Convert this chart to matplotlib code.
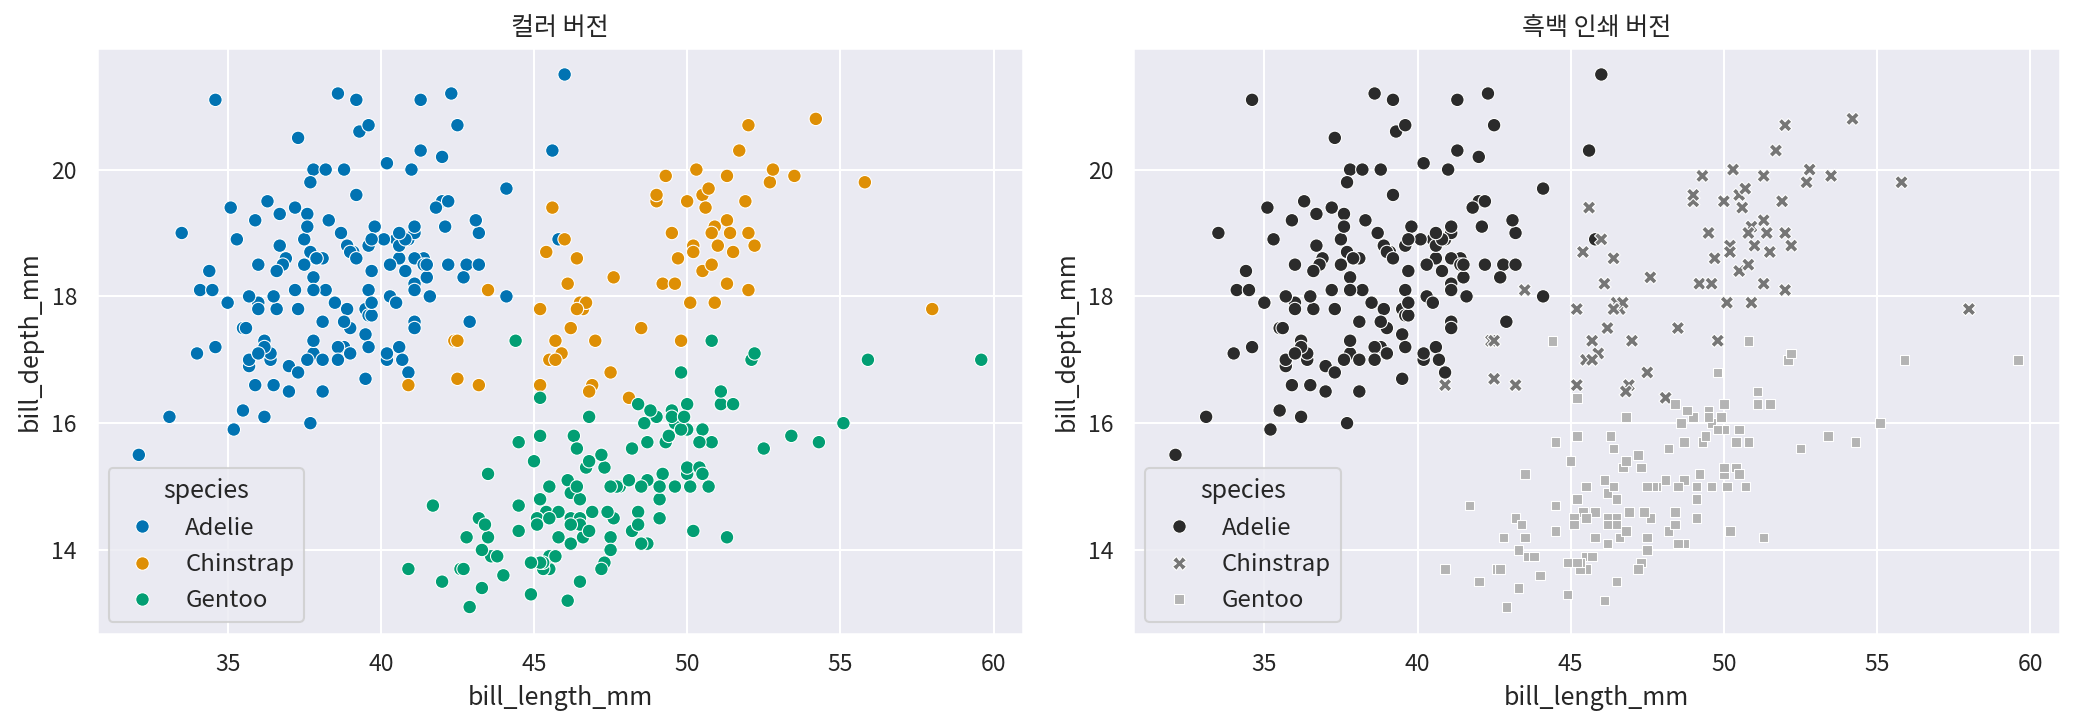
import matplotlib
matplotlib.use("Agg")
import matplotlib.pyplot as plt
import seaborn as sns
import pandas as pd

adelie_len = [39.1,39.5,40.3,36.7,39.3,38.9,39.2,34.1,42.0,37.8,37.8,41.1,38.6,34.6,36.6,38.7,42.5,34.4,46.0,37.8,37.7,35.9,38.2,38.8,35.3,40.6,40.5,37.9,40.5,39.5,37.2,39.5,40.9,36.4,39.2,38.8,42.2,37.6,39.8,36.5,40.8,36.0,44.1,37.0,39.6,41.1,37.5,36.0,42.3,39.6,40.1,35.0,42.0,34.5,41.4,39.0,40.6,36.5,37.6,35.7,41.3,37.6,41.1,36.4,41.6,35.5,41.1,35.9,41.8,33.5,39.7,39.6,45.8,35.5,42.8,40.9,37.2,36.2,42.1,34.6,42.9,36.7,35.1,37.3,41.3,36.3,36.9,38.3,38.9,35.7,41.1,34.0,39.6,36.2,40.8,38.1,40.3,33.1,43.2,35.0,41.0,37.7,37.8,37.9,39.7,38.6,38.2,38.1,43.2,38.1,45.6,39.7,42.2,39.6,42.7,38.6,37.3,35.7,41.1,36.2,37.7,40.2,41.4,35.2,40.6,38.8,41.5,39.0,44.1,38.5,43.1,36.8,37.5,38.1,41.1,35.6,40.2,37.0,39.7,40.2,40.6,32.1,40.7,37.3,39.0,39.2,36.6,36.0,37.8,36.0,41.5]
adelie_dep = [18.7,17.4,18.0,19.3,20.6,17.8,19.6,18.1,20.2,17.1,17.3,17.6,21.2,21.1,17.8,19.0,20.7,18.4,21.5,18.3,18.7,19.2,18.1,17.2,18.9,18.6,17.9,18.6,18.9,16.7,18.1,17.8,18.9,17.0,21.1,20.0,18.5,19.3,19.1,18.0,18.4,18.5,19.7,16.9,18.8,19.0,18.9,17.9,21.2,17.7,18.9,17.9,19.5,18.1,18.6,17.5,18.8,16.6,19.1,16.9,21.1,17.0,18.2,17.1,18.0,16.2,19.1,16.6,19.4,19.0,18.4,17.2,18.9,17.5,18.5,16.8,19.4,16.1,19.1,17.2,17.6,18.8,19.4,17.8,20.3,19.5,18.6,19.2,18.8,18.0,18.1,17.1,18.1,17.3,18.9,18.6,18.5,16.1,18.5,17.9,20.0,16.0,20.0,18.6,18.9,17.2,20.0,17.0,19.0,16.5,20.3,17.7,19.5,20.7,18.3,17.0,20.5,17.0,18.6,17.2,19.8,17.0,18.5,15.9,19.0,17.6,18.3,17.1,18.0,17.9,19.2,18.5,18.5,17.6,17.5,17.5,20.1,16.5,17.9,17.1,17.2,15.5,17.0,16.8,18.7,18.6,18.4,17.8,18.1,17.1,18.5]

chinstrap_len = [46.5,50.0,51.3,45.4,52.7,45.2,46.1,51.3,46.0,51.3,46.6,51.7,47.0,52.0,45.9,50.5,50.3,58.0,46.4,49.2,42.4,48.5,43.2,50.6,46.7,52.0,50.5,49.5,46.4,52.8,40.9,54.2,42.5,51.0,49.7,47.5,47.6,52.0,46.9,53.5,49.0,46.2,50.9,45.5,50.9,50.8,50.1,49.0,51.5,49.8,48.1,51.4,45.7,50.7,42.5,52.2,45.2,49.3,50.2,45.6,51.9,46.8,45.7,55.8,43.5,49.6,50.8,50.2]
chinstrap_dep = [17.9,19.5,19.2,18.7,19.8,17.8,18.2,18.2,18.9,19.9,17.8,20.3,17.3,18.1,17.1,19.6,20.0,17.8,18.6,18.2,17.3,17.5,16.6,19.4,17.9,19.0,18.4,19.0,17.8,20.0,16.6,20.8,16.7,18.8,18.6,16.8,18.3,20.7,16.6,19.9,19.5,17.5,19.1,17.0,17.9,18.5,17.9,19.6,18.7,17.3,16.4,19.0,17.3,19.7,17.3,18.8,16.6,19.9,18.8,19.4,19.5,16.5,17.0,19.8,18.1,18.2,19.0,18.7]

gentoo_len = [46.1,50.0,48.7,50.0,47.6,46.5,45.4,46.7,43.3,46.8,40.9,49.0,45.5,48.4,45.8,49.3,42.0,49.2,46.2,48.7,50.2,45.1,46.5,46.3,42.9,46.1,44.5,47.8,48.2,50.0,47.3,42.8,45.1,59.6,49.1,48.4,42.6,44.4,44.0,48.7,42.7,49.6,45.3,49.6,50.5,43.6,45.5,50.5,44.9,45.2,46.6,48.5,45.1,50.1,46.5,45.0,43.8,45.5,43.2,50.4,45.3,46.2,45.7,54.3,45.8,49.8,46.2,49.5,43.5,50.7,47.7,46.4,48.2,46.5,46.4,48.6,47.5,51.1,45.2,45.2,49.1,52.5,47.4,50.0,44.9,50.8,43.4,51.3,47.5,52.1,47.5,52.2,45.5,49.5,44.5,50.8,49.4,46.9,48.4,51.1,48.5,55.9,47.2,49.1,47.3,46.8,41.7,53.4,43.3,48.1,50.5,49.8,43.5,51.5,46.2,55.1,44.5,48.8,47.2,46.8,50.4,45.2,49.9]
gentoo_dep = [13.2,16.3,14.1,15.2,14.5,13.5,14.6,15.3,13.4,15.4,13.7,16.1,13.7,14.6,14.6,15.7,13.5,15.2,14.5,15.1,14.3,14.5,14.5,15.8,13.1,15.1,14.3,15.0,14.3,15.3,15.3,14.2,14.5,17.0,14.8,16.3,13.7,17.3,13.6,15.7,13.7,16.0,13.7,15.0,15.9,13.9,13.9,15.9,13.3,15.8,14.2,14.1,14.4,15.0,14.4,15.4,13.9,15.0,14.5,15.3,13.8,14.9,13.9,15.7,14.2,16.8,14.4,16.2,14.2,15.0,15.0,15.6,15.6,14.8,15.0,16.0,14.2,16.3,13.8,16.4,14.5,15.6,14.6,15.9,13.8,17.3,14.4,14.2,14.0,17.0,15.0,17.1,14.5,16.1,14.7,15.7,15.8,14.6,14.4,16.5,15.0,17.0,15.5,15.0,13.8,16.1,14.7,15.8,14.0,15.1,15.2,15.9,15.2,16.3,14.1,16.0,15.7,16.2,13.7,14.3,15.7,14.8,16.1]

species_names = ["Adelie", "Chinstrap", "Gentoo"]
titles = ["컬러 버전", "흑백 인쇄 버전"]
gray_colors = ["#2b2b2b", "#767676", "#b4b4b4"]

sns.set_theme(style="darkgrid")
plt.rcParams['font.family'] = ['Noto Sans CJK KR', 'DejaVu Sans']

df = pd.DataFrame({
    "bill_length_mm": adelie_len + chinstrap_len + gentoo_len,
    "bill_depth_mm": adelie_dep + chinstrap_dep + gentoo_dep,
    "species": ["Adelie"] * len(adelie_len) + ["Chinstrap"] * len(chinstrap_len) + ["Gentoo"] * len(gentoo_len),
})

fig, axes = plt.subplots(1, 2, figsize=(2075 / 150, 725 / 150), dpi=150)
sns.scatterplot(data=df, x="bill_length_mm", y="bill_depth_mm", hue="species",
                hue_order=species_names, palette="colorblind", s=42, ax=axes[0])
sns.scatterplot(data=df, x="bill_length_mm", y="bill_depth_mm", hue="species",
                style="species", hue_order=species_names, style_order=species_names,
                palette=gray_colors, s=42, ax=axes[1])
for ax, t in zip(axes, titles):
    ax.set_title(t, fontsize=12)
    ax.set_yticks([14, 16, 18, 20])
    ax.legend(title="species", loc="lower left", fontsize=11.5, title_fontsize=12,
              labelspacing=0.55)
fig.subplots_adjust(left=0.0466, right=0.9928, top=0.934, bottom=0.126, wspace=0.1187)
fig.savefig("out.png", dpi=150)
